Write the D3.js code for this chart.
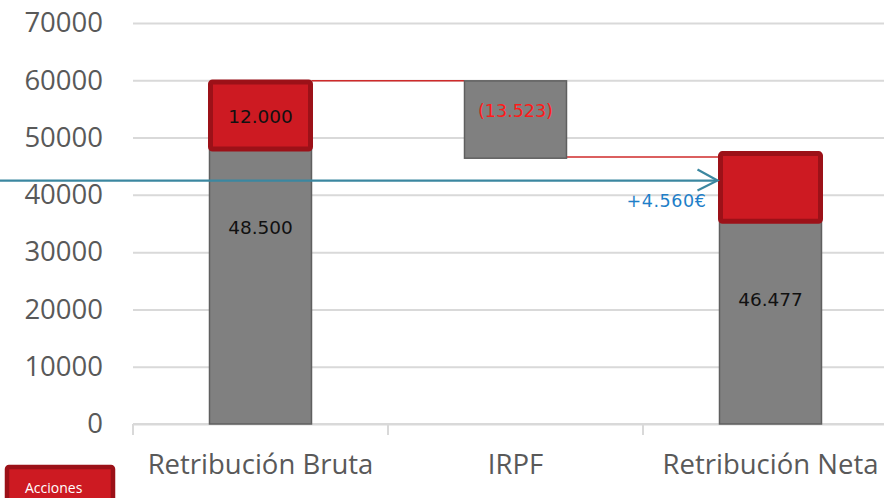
<!DOCTYPE html>
<html><head><meta charset="utf-8">
<script src="https://cdn.jsdelivr.net/npm/d3@7"></script>
<style>html,body{margin:0;padding:0;background:#fff;overflow:hidden}</style>
</head><body>
<svg id="c" width="884" height="498"></svg>
<script>
// ---- data ----
const categories = ["Retribución Bruta", "IRPF", "Retribución Neta"];
const yTicks = [0, 10000, 20000, 30000, 40000, 50000, 60000, 70000];
// grey base bars and their labels
const baseValues = [48000, null, 35400];
const baseLabels = ["48.500", null, "46.477"];
// red "Acciones" blocks stacked on top of the base
const accionesValues = [11700, null, 11800];
const accionesLabels = ["12.000", null, null];
// IRPF floating bar [from, to]
const irpfRange = [59900, 46400];
const irpfLabel = "(13.523)";
// connector levels
const connectorValues = [59900, 46600];
// blue arrow level and label
const arrowValue = 42500;
const arrowLabel = "+4.560€";
const legendLabel = "Acciones";

// ---- layout ----
const svg = d3.select("#c");
const mLeft = 133, mRight = 898, mTop = 23, mBottom = 424;
const x = d3.scaleBand().domain(categories).range([mLeft, mRight]).paddingInner(0.6).paddingOuter(0.3);
const y = d3.scaleLinear().domain([0, 70000]).range([mBottom, mTop]);

const grey = "#808080", greyStroke = "#5f5f5f";
const red = "#cd1a22", redDark = "#9c1118";
const gridCol = "#d9d9d9";

// gridlines + y axis labels
const yAxis = svg.append("g").attr("transform", `translate(${mLeft},0)`)
  .call(d3.axisLeft(y).tickValues(yTicks).tickFormat(d3.format("d")).tickSize(-(884 - mLeft)).tickPadding(30));
yAxis.select(".domain").remove();
yAxis.selectAll(".tick line").attr("stroke", gridCol).attr("stroke-width", 2);
yAxis.selectAll(".tick text").attr("fill", "#595959").attr("font-family", "Open Sans").attr("font-size", 27.5);

// x axis line + ticks at band boundaries
const half = (x.step() - x.bandwidth()) / 2;
const bounds = categories.map(c => x(c) - half).concat([x(categories[2]) + x.bandwidth() + half]);
svg.append("line").attr("x1", mLeft).attr("x2", 884).attr("y1", y(0)).attr("y2", y(0))
  .attr("stroke", gridCol).attr("stroke-width", 2);
svg.selectAll(".xt").data(bounds).join("line").attr("class", "xt")
  .attr("x1", d => d).attr("x2", d => d).attr("y1", y(0)).attr("y2", y(0) + 11)
  .attr("stroke", gridCol).attr("stroke-width", 2);
const xAxis = svg.append("g").attr("transform", `translate(0,${y(0)})`)
  .call(d3.axisBottom(x).tickSize(0).tickPadding(30));
xAxis.select(".domain").remove();
xAxis.selectAll(".tick text").attr("fill", "#595959").attr("font-family", "Open Sans").attr("font-size", 27.5);

// connectors
svg.append("line")
  .attr("x1", x(categories[0]) + x.bandwidth()).attr("x2", x(categories[1]))
  .attr("y1", y(connectorValues[0])).attr("y2", y(connectorValues[0]))
  .attr("stroke", "#cf2a2a").attr("stroke-width", 1.5);
svg.append("line")
  .attr("x1", x(categories[1]) + x.bandwidth()).attr("x2", x(categories[2]))
  .attr("y1", y(connectorValues[1])).attr("y2", y(connectorValues[1]))
  .attr("stroke", "#cf2a2a").attr("stroke-width", 1.5);

// grey base bars
categories.forEach((c, i) => {
  if (baseValues[i] == null) return;
  svg.append("rect").attr("x", x(c)).attr("width", x.bandwidth())
    .attr("y", y(baseValues[i])).attr("height", y(0) - y(baseValues[i]))
    .attr("fill", grey).attr("stroke", greyStroke).attr("stroke-width", 1.5);
});
// IRPF floating bar
svg.append("rect").attr("x", x(categories[1])).attr("width", x.bandwidth())
  .attr("y", y(irpfRange[0])).attr("height", y(irpfRange[1]) - y(irpfRange[0]))
  .attr("fill", grey).attr("stroke", greyStroke).attr("stroke-width", 1.5);

// blue arrow
const ay = y(arrowValue);
const tipX = x(categories[2]) - 2;
svg.append("line").attr("x1", 0).attr("x2", tipX).attr("y1", ay).attr("y2", ay)
  .attr("stroke", "#3b87a0").attr("stroke-width", 2.2);

// red acciones blocks
categories.forEach((c, i) => {
  if (accionesValues[i] == null) return;
  const t = baseValues[i] + accionesValues[i];
  svg.append("rect").attr("x", x(c) + 1).attr("width", x.bandwidth() - 2)
    .attr("y", y(t)).attr("height", y(baseValues[i]) - y(t)).attr("rx", 2)
    .attr("fill", red).attr("stroke", redDark).attr("stroke-width", 5);
});

// arrow head
svg.append("path")
  .attr("d", d3.line()([[tipX - 20, ay - 11], [tipX, ay], [tipX - 20, ay + 10]]))
  .attr("fill", "none").attr("stroke", "#3b87a0").attr("stroke-width", 2.2);

// labels
const lblFont = "DejaVu Sans";
categories.forEach((c, i) => {
  const cx = x(c) + x.bandwidth() / 2;
  if (baseLabels[i]) {
    svg.append("text").attr("x", cx).attr("y", y(baseValues[i]) + 78)
      .attr("text-anchor", "middle").attr("dominant-baseline", "central")
      .attr("font-family", lblFont).attr("font-size", 18.5).attr("fill", "#111").text(baseLabels[i]);
  }
  if (accionesLabels[i]) {
    const t = baseValues[i] + accionesValues[i];
    svg.append("text").attr("x", cx).attr("y", (y(t) + y(baseValues[i])) / 2 + 1)
      .attr("text-anchor", "middle").attr("dominant-baseline", "central")
      .attr("font-family", lblFont).attr("font-size", 18.5).attr("fill", "#111").text(accionesLabels[i]);
  }
});
svg.append("text").attr("x", x(categories[1]) + x.bandwidth() / 2).attr("y", y(irpfRange[0]) + 30)
  .attr("text-anchor", "middle").attr("dominant-baseline", "central")
  .attr("font-family", lblFont).attr("font-size", 17.5).attr("fill", "#ff1a1a").text(irpfLabel);
svg.append("text").attr("x", tipX - 11).attr("y", ay + 20)
  .attr("text-anchor", "end").attr("dominant-baseline", "central").attr("letter-spacing", 0.6)
  .attr("font-family", lblFont).attr("font-size", 17.5).attr("fill", "#1f7fc8").text(arrowLabel);

// legend
svg.append("rect").attr("x", 7).attr("y", 467).attr("width", 106).attr("height", 40).attr("rx", 2)
  .attr("fill", red).attr("stroke", redDark).attr("stroke-width", 4.5);
svg.append("text").attr("x", 25).attr("y", 493).attr("font-family", "Open Sans").attr("font-size", 14)
  .attr("fill", "#fff").text(legendLabel);
</script>
</body></html>
